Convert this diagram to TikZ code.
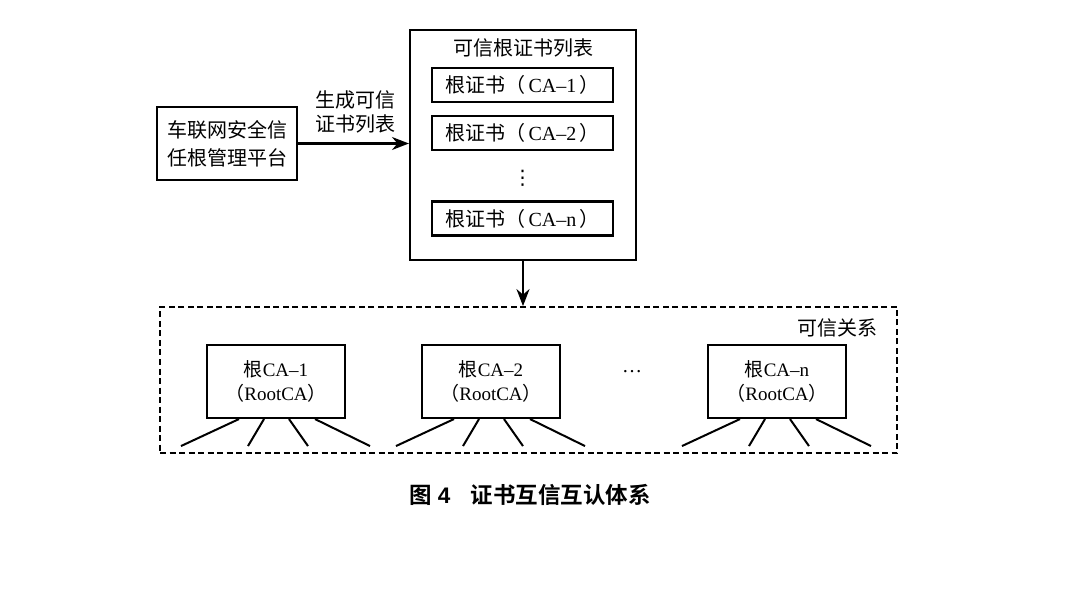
\documentclass[tikz,border=0pt]{standalone}
\usepackage{fontspec}
\setmainfont{Liberation Serif}
\newfontfamily\cjk{Noto Sans CJK SC}
\newfontfamily\cjkb{Noto Sans CJK SC}[BoldFont={* Bold}]
\newfontfamily\dvs{DejaVu Sans}
\usetikzlibrary{arrows.meta}
\begin{document}
\begin{tikzpicture}[x=1pt,y=-1pt,
  box/.style={draw,line width=2.1pt,inner sep=0pt,align=center},
  conn/.style={line width=2.1pt,-{Stealth[length=17pt,width=13pt]}},
  fan/.style={line width=2pt},
  txt/.style={font=\fontsize{20}{28}\selectfont,align=center}]
\useasboundingbox (0,0) rectangle (1080,596);
% left platform box
\node[box,txt,minimum width=140pt,minimum height=73pt] (plat) at (227,143.5)
  {\cjk 车联网安全信\\\cjk 任根管理平台};
% list box
\node[box,minimum width=226pt,minimum height=230pt] (list) at (523,145) {};
\node[txt] (title) at (523,48) {\cjk 可信根证书列表};
\node[box,txt,minimum width=181pt,minimum height=34pt] (c1) at (522.5,85)
  {{\cjk 根证书（\,}CA–1{\cjk \,）}};
\node[box,txt,minimum width=181pt,minimum height=34pt] (c2) at (522.5,133)
  {{\cjk 根证书（\,}CA–2{\cjk \,）}};
\node[txt,font=\dvs\fontsize{20}{24}\selectfont] (vd) at (522.5,178) {⋮};
\node[box,txt,minimum width=181pt,minimum height=34pt] (cn) at (522.5,218.5)
  {{\cjk 根证书（\,}CA–n{\cjk \,）}};
% arrow with label
\draw[conn] (plat.east) -- (plat.east -| list.west) coordinate (ae);
\node[txt,font=\fontsize{20}{24}\selectfont] (lab) at (355,112) {\cjk 生成可信\\\cjk 证书列表};
% trust region
\node[draw,line width=1.8pt,dash pattern=on 6pt off 3.5pt,minimum width=737pt,minimum height=146pt] (trust) at (528.5,380) {};
\node[txt,anchor=east] (tl) at (881,328) {\cjk 可信关系};
\draw[conn] (list.south) -- (list.south |- trust.north);
% root CA boxes
\foreach \n/\x/\k in {r1/276/1, r2/491/2, r3/777/n}{
  \node[box,txt,font=\fontsize{19}{24}\selectfont,minimum width=138pt,minimum height=73pt] (\n) at (\x,381.5)
    {{\cjk 根}CA–\k\\{\cjk （}RootCA{\cjk ）}};
  \draw[fan] (\n.south) ++(-37,0) -- ++(-58,27);
  \draw[fan] (\n.south) ++(-12,0) -- ++(-16,27);
  \draw[fan] (\n.south) ++(13,0) -- ++(19,27);
  \draw[fan] (\n.south) ++(39,0) -- ++(55,27);
}
\node[txt] (hd) at (632,372) {…};
% caption
\node[font=\fontsize{22.5}{26}\selectfont\bfseries] (cap) at (530,495)
  {{\cjkb\bfseries 图}\hspace{6pt}{\fontspec{Liberation Sans}\bfseries 4}\hspace{20pt}{\cjkb\bfseries 证书互信互认体系}};
\end{tikzpicture}
\end{document}
